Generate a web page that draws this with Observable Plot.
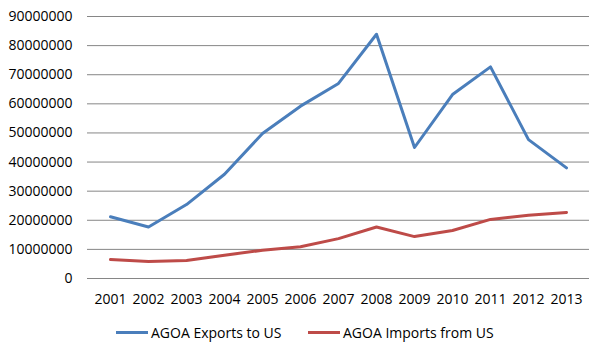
<!DOCTYPE html>
<html>
<head>
<meta charset="utf-8">
<script src="https://cdn.jsdelivr.net/npm/d3@7"></script>
<script src="https://cdn.jsdelivr.net/npm/@observablehq/plot@0.6"></script>
<style>
  html, body { margin: 0; padding: 0; background: #fff; }
  #chart { width: 607px; }
  .legend { position: relative; height: 35px; font-family: "Open Sans", sans-serif; font-size: 14px; color: #000; }
  .item { position: absolute; top: 5px; display: flex; align-items: center; white-space: nowrap; }
  .sw { display: inline-block; width: 32px; height: 3px; margin-right: 3px; }
</style>
</head>
<body>
<div id="chart"></div>
<script>
const years = ["2001","2002","2003","2004","2005","2006","2007","2008","2009","2010","2011","2012","2013"];
const exportsToUS = [21200000, 17700000, 25400000, 35800000, 49800000, 59200000, 67000000, 83900000, 45000000, 63200000, 72700000, 47700000, 38000000];
const importsFromUS = [6500000, 5800000, 6200000, 8000000, 9700000, 10900000, 13700000, 17700000, 14400000, 16500000, 20300000, 21700000, 22700000];
const seriesNames = ["AGOA Exports to US", "AGOA Imports from US"];
const seriesColors = ["#4A7EBB", "#BE4B48"];
const yTicks = [0, 10000000, 20000000, 30000000, 40000000, 50000000, 60000000, 70000000, 80000000, 90000000];

const data = [];
years.forEach((y, i) => {
  data.push({year: y, value: exportsToUS[i], series: seriesNames[0]});
  data.push({year: y, value: importsFromUS[i], series: seriesNames[1]});
});

const plot = Plot.plot({
  width: 607,
  height: 318,
  marginTop: 16,
  marginBottom: 40,
  marginLeft: 87,
  marginRight: 18,
  style: {fontFamily: "'Open Sans', sans-serif", fontSize: "14px", color: "#000", background: "#fff"},
  x: {type: "point", domain: years, padding: 0.5, label: null},
  y: {domain: [0, 90000000], label: null},
  color: {domain: seriesNames, range: seriesColors},
  marks: [
    Plot.ruleY(yTicks, {stroke: "#868686", strokeWidth: 1}),
    Plot.axisY({ticks: yTicks, tickSize: 0, tickPadding: 15, tickFormat: d => String(d), label: null}),
    Plot.axisX({tickSize: 0, tickPadding: 16, label: null}),
    Plot.line(data, {x: "year", y: "value", z: "series", stroke: "series", strokeWidth: 3, strokeLinejoin: "round", strokeLinecap: "round"})
  ]
});
document.getElementById("chart").appendChild(plot);

const legend = document.createElement("div");
legend.className = "legend";
const lefts = [116, 308];
seriesNames.forEach((name, i) => {
  const item = document.createElement("div");
  item.className = "item";
  item.style.left = lefts[i] + "px";
  const sw = document.createElement("span");
  sw.className = "sw";
  sw.style.background = seriesColors[i];
  const t = document.createElement("span");
  t.textContent = name;
  item.appendChild(sw);
  item.appendChild(t);
  legend.appendChild(item);
});
document.getElementById("chart").appendChild(legend);
</script>
</body>
</html>
